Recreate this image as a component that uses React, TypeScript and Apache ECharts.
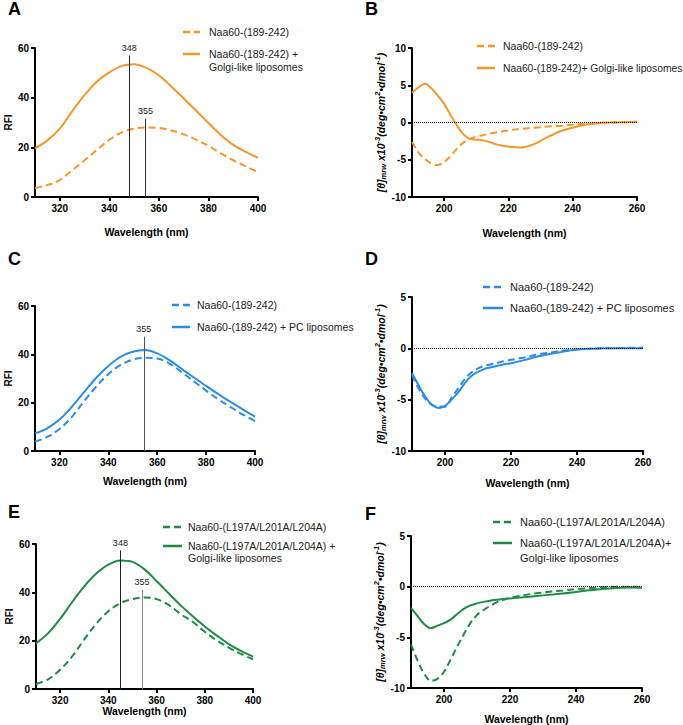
import React, { useEffect, useRef } from "react";
import * as echarts from "echarts";

// ---------- data ----------
const fluorX = [310, 315, 320, 325, 330, 335, 340, 345, 350, 355, 360, 365, 370, 375, 380, 385, 390, 395, 400];
const aDashed = [3.5, 4.8, 6.8, 10.8, 14.8, 19, 23, 26, 27.5, 28, 27.8, 26.8, 25.2, 23.1, 20.6, 17.6, 14.8, 12.4, 10];
const aSolid = [19.6, 22.8, 27.5, 34.5, 41, 46.5, 50.2, 52.8, 53.5, 52, 49, 44.5, 39.7, 34.8, 29.8, 25, 21, 18.2, 15.8];
const cDashed = [3.9, 5.8, 9.1, 14, 20.5, 26.6, 31.8, 35.6, 37.8, 38.6, 38.3, 36.2, 32.6, 28.8, 25, 21.4, 18.2, 15.1, 12.4];
const cSolid = [7.3, 9.4, 13, 18.2, 24.3, 30.2, 35.2, 39, 41.1, 41.8, 40.4, 37.6, 34, 30.4, 26.9, 23.5, 20.3, 17.2, 14.2];
const eDashed = [2.1, 4, 8, 13.5, 20.5, 27, 32.2, 35.5, 37.2, 37.9, 37.2, 34.8, 31, 27.8, 23.7, 20.1, 17.1, 14.5, 12.3];
const eSolid = [18.9, 23, 29, 36, 42.5, 47.8, 51.5, 53.2, 52.6, 49.5, 44.7, 39.6, 34.6, 30.1, 25.9, 22.1, 18.6, 15.8, 13.4];

const cdX = [190, 192, 194, 196, 198, 200, 202, 204, 206, 208, 210, 212, 214, 216, 218, 220, 224, 228, 232, 236, 240, 244, 248, 252, 256, 260];
const bDashed = [-2.6, -4.0, -4.9, -5.5, -5.7, -5.3, -4.5, -3.5, -2.7, -2.2, -1.9, -1.7, -1.5, -1.35, -1.2, -1.05, -0.85, -0.7, -0.55, -0.45, -0.3, -0.15, -0.05, 0, 0.05, 0.1];
const bSolid = [4.0, 4.7, 5.2, 4.6, 3.6, 2.5, 1.0, -0.4, -1.6, -2.2, -2.3, -2.4, -2.6, -2.9, -3.1, -3.25, -3.35, -2.9, -2.0, -1.2, -0.7, -0.3, -0.1, 0, 0.05, 0.1];
const dDashed = [-2.6, -3.9, -4.9, -5.5, -5.65, -5.7, -4.8, -3.9, -3.0, -2.35, -1.95, -1.7, -1.55, -1.4, -1.25, -1.12, -0.9, -0.6, -0.4, -0.22, -0.1, -0.03, 0, 0.02, 0.05, 0.05];
const dSolid = [-2.4, -3.6, -4.7, -5.5, -5.8, -5.6, -5.0, -4.3, -3.4, -2.7, -2.3, -2.0, -1.85, -1.7, -1.55, -1.45, -1.15, -0.8, -0.55, -0.3, -0.12, -0.05, 0, 0, 0.02, 0];
const fDashed = [-5.7, -7.3, -8.6, -9.3, -9.1, -8.4, -7.2, -5.9, -4.7, -3.6, -2.8, -2.3, -1.9, -1.55, -1.3, -1.1, -0.85, -0.65, -0.5, -0.38, -0.25, -0.15, -0.05, 0, 0, 0];
const fSolid = [-2.1, -2.9, -3.7, -4.1, -3.85, -3.6, -3.25, -2.7, -2.2, -1.85, -1.65, -1.5, -1.38, -1.3, -1.22, -1.16, -1.05, -0.92, -0.8, -0.68, -0.52, -0.36, -0.22, -0.12, -0.08, -0.1];

const fluorTicks = [320, 340, 360, 380, 400];
const cdTicks = [200, 220, 240, 260];

const aMarkerX = [348, 354.6];
const aMarkerTop = [57, 31.5];
const aMarkerLabels = ["348", "355"];
const cMarkerX = [354.5];
const cMarkerTop = [47.3];
const cMarkerLabels = ["355"];
const eMarkerX = [345, 354];
const eMarkerTop = [57.4, 41];
const eMarkerLabels = ["348", "355"];

const labelWT = "Naa60-(189-242)";
const labelA2 = "Naa60-(189-242) +\nGolgi-like liposomes";
const labelB2 = "Naa60-(189-242)+ Golgi-like liposomes";
const labelC2 = "Naa60-(189-242) + PC liposomes";
const labelMut = "Naa60-(L197A/L201A/L204A)";
const labelE2 = "Naa60-(L197A/L201A/L204A) +\nGolgi-like liposomes";
const labelF2 = "Naa60-(L197A/L201A/L204A)+\nGolgi-like liposomes";

const ORANGE = "#F5962A";
const BLUE = "#2B8CE6";
const GREEN = "#1F8A45";
const FONT = "Liberation Sans, Arial, Helvetica, sans-serif";

const grids = [
  { left: 35, top: 48, width: 223, height: 149 },
  { left: 412, top: 48, width: 225, height: 149 },
  { left: 35, top: 306, width: 220, height: 145 },
  { left: 412, top: 297, width: 231, height: 154 },
  { left: 36, top: 544, width: 217, height: 145 },
  { left: 411, top: 536, width: 231, height: 153 },
];

const pair = (xs: number[], ys: number[]) => xs.map((x, i) => [x, ys[i]]);

function xAxisCfg(i: number, fluor: boolean, gap: number) {
  return {
    type: "value",
    gridIndex: i,
    min: fluor ? 310 : 190,
    max: fluor ? 400 : 260,
    name: "Wavelength (nm)",
    nameLocation: "middle",
    nameGap: gap,
    nameTextStyle: { fontWeight: "bold", fontSize: 10.5, color: "#000", fontFamily: FONT },
    axisLine: { show: true, onZero: false, lineStyle: { color: "#000", width: 2 } },
    axisTick: { show: true, length: 4, lineStyle: { color: "#000", width: 2 }, customValues: fluor ? fluorTicks : cdTicks },
    axisLabel: { fontWeight: "bold", fontSize: 10, color: "#000", margin: 6, fontFamily: FONT, customValues: fluor ? fluorTicks : cdTicks },
    splitLine: { show: false },
  };
}

const cdName = "{a|[θ]}{sub|mrw}{a| x10}{sup|-3}{a|(deg•cm}{sup|2}{a|•dmol}{sup|-1}{a|)}";

function yAxisCfg(i: number, kind: "fluor" | "cd10" | "cd5") {
  const fluor = kind === "fluor";
  return {
    type: "value",
    gridIndex: i,
    min: fluor ? 0 : -10,
    max: fluor ? 60 : kind === "cd10" ? 10 : 5,
    interval: fluor ? 20 : 5,
    name: fluor ? "RFI" : cdName,
    nameLocation: "middle",
    nameGap: fluor ? 17 : 21,
    nameTextStyle: fluor
      ? { fontWeight: "bold", fontSize: 10, color: "#000", fontFamily: FONT }
      : {
          rich: {
            a: { fontWeight: "bold", fontStyle: "italic", fontSize: 10.5, color: "#000", fontFamily: FONT, lineHeight: 14 },
            sub: { fontWeight: "bold", fontStyle: "italic", fontSize: 7.5, color: "#000", fontFamily: FONT, verticalAlign: "bottom", lineHeight: 8 },
            sup: { fontWeight: "bold", fontStyle: "italic", fontSize: 7.5, color: "#000", fontFamily: FONT, verticalAlign: "top", lineHeight: 8 },
          },
        },
    axisLine: { show: true, onZero: false, lineStyle: { color: "#000", width: 2 } },
    axisTick: { show: true, length: 4, lineStyle: { color: "#000", width: 2 } },
    axisLabel: { fontWeight: "bold", fontSize: 10, color: "#000", margin: 6, fontFamily: FONT },
    splitLine: { show: false },
  };
}

function dataSeries(i: number, xs: number[], ys: number[], color: string, dashed: boolean, extra: any = {}) {
  return {
    type: "line",
    xAxisIndex: i,
    yAxisIndex: i,
    data: pair(xs, ys),
    showSymbol: false,
    symbol: "none",
    smooth: 0.35,
    lineStyle: { color, width: 2, type: dashed ? [7, 4] : "solid" },
    itemStyle: { color },
    z: 3,
    ...extra,
  };
}

function markerLines(xs: number[], tops: number[], labels: string[], colors: string[]) {
  return {
    silent: true,
    symbol: ["none", "none"],
    animation: false,
    data: xs.map((x, k) => [
      {
        coord: [x, 0],
        lineStyle: { color: colors[k], width: 1, type: "solid" },
        label: { show: true, position: "end", formatter: labels[k], fontSize: 9, color: "#222", fontFamily: FONT, distance: 3 },
      },
      { coord: [x, tops[k]] },
    ]),
  };
}

const zeroLine = {
  silent: true,
  symbol: ["none", "none"],
  animation: false,
  label: { show: false },
  lineStyle: { color: "#000", width: 1, type: "dotted" },
  data: [{ yAxis: 0 }],
};

function legendEntry(x1: number, x2: number, y: number, tx: number, ty: number, text: string, color: string, dashed: boolean, fontSize: number, lineHeight = 13) {
  return [
    {
      type: "line",
      shape: { x1, y1: y, x2, y2: y },
      style: { stroke: color, lineWidth: 2.5, lineDash: dashed ? [7, 4] : null },
      silent: true,
    },
    {
      type: "text",
      x: tx,
      y: ty,
      style: { text, fontSize, fontFamily: FONT, fill: "#222", align: "left", verticalAlign: "middle", lineHeight },
      silent: true,
    },
  ];
}

function panelLabel(text: string, x: number, y: number) {
  return {
    type: "text",
    x,
    y,
    style: { text, fontSize: 18, fontWeight: "bold", fontFamily: FONT, fill: "#000", align: "left", verticalAlign: "middle" },
    silent: true,
  };
}

export default function App() {
  const ref = useRef<HTMLDivElement>(null);
  useEffect(() => {
    if (!ref.current) return;
    const chart = echarts.init(ref.current, null, { renderer: "svg" });
    const option: any = {
      animation: false,
      backgroundColor: "#fff",
      textStyle: { fontFamily: FONT },
      grid: grids.map((g) => ({ ...g, containLabel: false })),
      xAxis: [
        xAxisCfg(0, true, 29),
        xAxisCfg(1, false, 30),
        xAxisCfg(2, true, 24),
        xAxisCfg(3, false, 26),
        xAxisCfg(4, true, 13),
        xAxisCfg(5, false, 25),
      ],
      yAxis: [
        yAxisCfg(0, "fluor"),
        yAxisCfg(1, "cd10"),
        yAxisCfg(2, "fluor"),
        yAxisCfg(3, "cd5"),
        yAxisCfg(4, "fluor"),
        yAxisCfg(5, "cd5"),
      ],
      series: [
        dataSeries(0, fluorX, aDashed, ORANGE, true, { markLine: markerLines(aMarkerX, aMarkerTop, aMarkerLabels, ["#222", "#333"]) }),
        dataSeries(0, fluorX, aSolid, ORANGE, false),
        dataSeries(1, cdX, bDashed, ORANGE, true, { markLine: zeroLine }),
        dataSeries(1, cdX, bSolid, ORANGE, false),
        dataSeries(2, fluorX, cDashed, BLUE, true, { markLine: markerLines(cMarkerX, cMarkerTop, cMarkerLabels, ["#555"]) }),
        dataSeries(2, fluorX, cSolid, BLUE, false),
        dataSeries(3, cdX, dDashed, BLUE, true, { markLine: zeroLine }),
        dataSeries(3, cdX, dSolid, BLUE, false),
        dataSeries(4, fluorX, eDashed, GREEN, true, { markLine: markerLines(eMarkerX, eMarkerTop, eMarkerLabels, ["#222", "#888"]) }),
        dataSeries(4, fluorX, eSolid, GREEN, false),
        dataSeries(5, cdX, fDashed, GREEN, true, { markLine: zeroLine }),
        dataSeries(5, cdX, fSolid, GREEN, false),
      ],
      graphic: [
        panelLabel("A", 8, 9),
        panelLabel("B", 365, 9),
        panelLabel("C", 8, 259),
        panelLabel("D", 365, 259),
        panelLabel("E", 8, 512),
        panelLabel("F", 365, 514),
        ...legendEntry(183, 200, 32, 209, 32, labelWT, ORANGE, true, 10.5),
        ...legendEntry(183, 200, 54, 209, 60.5, labelA2, ORANGE, false, 10.5, 13),
        ...legendEntry(477, 495, 46, 503, 46, labelWT, ORANGE, true, 10.5),
        ...legendEntry(477, 495, 68, 503, 68, labelB2, ORANGE, false, 10.3),
        ...legendEntry(172, 190, 305, 197, 305, labelWT, BLUE, true, 10.5),
        ...legendEntry(172, 190, 327, 197, 327, labelC2, BLUE, false, 10.5),
        ...legendEntry(483, 503, 287, 510, 287, labelWT, BLUE, true, 11),
        ...legendEntry(483, 503, 308, 510, 308, labelC2, BLUE, false, 11),
        ...legendEntry(163, 182, 527, 188, 527, labelMut, GREEN, true, 10.5),
        ...legendEntry(163, 182, 546, 188, 552, labelE2, GREEN, false, 10.5, 12),
        ...legendEntry(493, 512, 522, 520, 522, labelMut, GREEN, true, 11),
        ...legendEntry(493, 512, 543, 520, 550.5, labelF2, GREEN, false, 11, 15),
      ],
    };
    chart.setOption(option);
    return () => chart.dispose();
  }, []);
  return <div ref={ref} style={{ position: "absolute", left: 0, top: 0, width: 683, height: 725 }} />;
}
